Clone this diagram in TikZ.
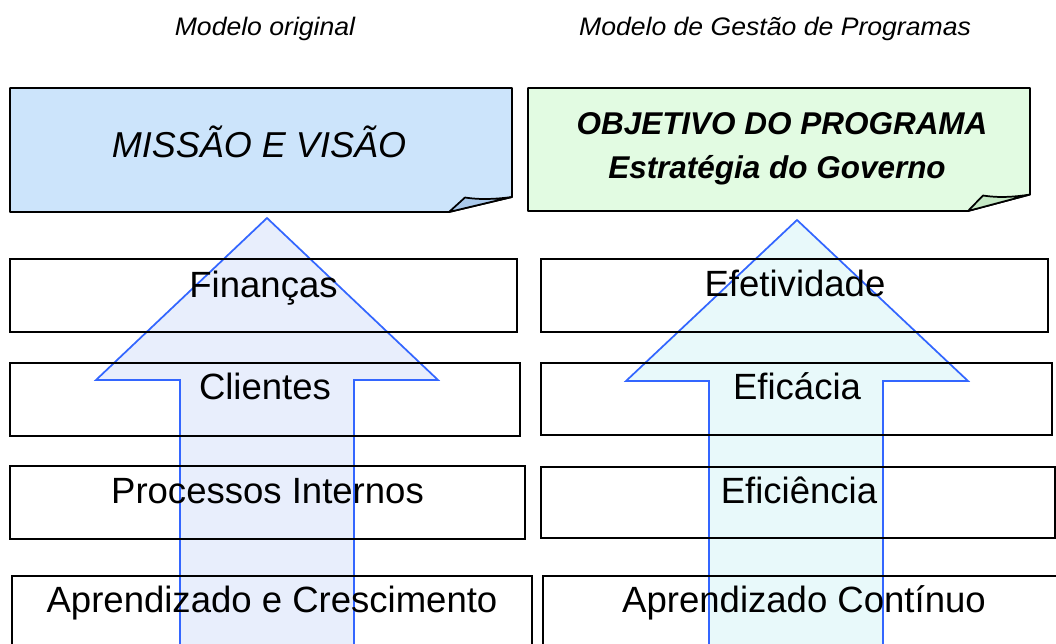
\documentclass[tikz,border=0pt]{standalone}
\usepackage{fontspec}
\setmainfont{Liberation Sans}
\usepackage{graphicx}
\definecolor{topL}{RGB}{204,228,251}
\definecolor{foldL}{RGB}{170,201,235}
\definecolor{topR}{RGB}{226,251,226}
\definecolor{foldR}{RGB}{197,232,197}
\definecolor{arrowblue}{RGB}{51,102,255}
\definecolor{arrowfillL}{RGB}{232,238,252}
\definecolor{arrowfillR}{RGB}{232,249,250}
\begin{document}
\begin{tikzpicture}[x=0.75pt,y=-0.75pt,
  rowbox/.style={draw=black,line width=1.3pt},
  topbox/.style={draw=black,line width=1.3pt,line join=round},
  rowtext/.style={anchor=base,inner sep=0pt,font=\fontsize{27.4}{30}\selectfont},
  titletext/.style={anchor=base,inner sep=0pt,font=\fontsize{19}{22}\selectfont\itshape},
  bigtext/.style={anchor=base,inner sep=0pt,font=\fontsize{27}{30}\selectfont\itshape},
  boldtext/.style={anchor=base,inner sep=0pt,font=\fontsize{23.6}{28}\selectfont\bfseries\itshape},
  bigarrow/.style={draw=arrowblue,line width=1.3pt,line join=miter}]
\useasboundingbox (0,0) rectangle (1056,643);
\clip (0,0) rectangle (1056,643);

% titles
\node[titletext] (h1) at (265,35) {\scalebox{1.05}[1]{Modelo original}};
\node[titletext] (h2) at (775,35) {\scalebox{1.05}[1]{Modelo de Gestão de Programas}};

% top left note
\draw[topbox,fill=topL] (10,88) -- (512,88) -- (512,197) -- (449,212) -- (10,212) -- cycle;
\draw[topbox,fill=foldL] (449,212) -- (465,197.5) .. controls (480,200) and (497,199) .. (512,197) -- cycle;
\node[bigtext] (mv) at (259,157) {MISSÃO E VISÃO};

% top right note
\draw[topbox,fill=topR] (528,88) -- (1030,88) -- (1030,194.5) -- (968,211) -- (528,211) -- cycle;
\draw[topbox,fill=foldR] (968,211) -- (983,195.5) .. controls (998,198) and (1015,197) .. (1030,194.5) -- cycle;
\node[boldtext] (op) at (782,134) {OBJETIVO DO PROGRAMA};
\node[boldtext] (eg) at (777,178) {Estratégia do Governo};

% arrows
\draw[bigarrow,fill=arrowfillL] (267,218) -- (438,380) -- (354,380) -- (354,660) -- (180,660) -- (180,380) -- (96,380) -- cycle;
\draw[bigarrow,fill=arrowfillR] (797,220) -- (968,381) -- (883,381) -- (883,660) -- (709,660) -- (709,381) -- (626,381) -- cycle;

% left column
\draw[rowbox] (10,259) rectangle (517,332);
\draw[rowbox] (10,363) rectangle (520,436);
\draw[rowbox] (10,466) rectangle (525,539);
\draw[rowbox] (12,576) rectangle (532,670);
\node[rowtext] (l1) at (263.5,297) {Finanças};
\node[rowtext] (l2) at (265,399) {Clientes};
\node[rowtext] (l3) at (267.5,503) {Processos Internos};
\node[rowtext] (l4) at (272,612) {Aprendizado e Crescimento};

% right column
\draw[rowbox] (541,259) rectangle (1048,332);
\draw[rowbox] (541,363) rectangle (1052,435);
\draw[rowbox] (541,467) rectangle (1055,538);
\draw[rowbox] (543,576) rectangle (1066,670);
\node[rowtext] (r1) at (795,296) {Efetividade};
\node[rowtext] (r2) at (797,399) {Eficácia};
\node[rowtext] (r3) at (799,503) {Eficiência};
\node[rowtext] (r4) at (804,612) {Aprendizado Contínuo};
\end{tikzpicture}
\end{document}
